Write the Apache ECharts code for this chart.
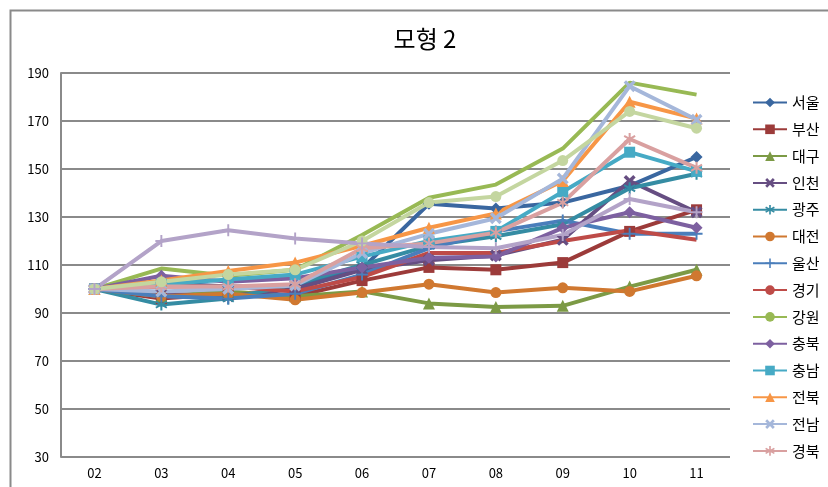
<!DOCTYPE html>
<html>
<head>
<meta charset="utf-8">
<script src="https://cdn.jsdelivr.net/npm/echarts@6/dist/echarts.min.js"></script>
<style>
  html, body { margin: 0; padding: 0; background: #fff; }
  #main { width: 828px; height: 487px; }
</style>
</head>
<body>
<div id="main"></div>
<script>
const categories = ['02', '03', '04', '05', '06', '07', '08', '09', '10', '11'];
const regions = ['서울', '부산', '대구', '인천', '광주', '대전', '울산', '경기', '강원', '충북', '충남', '전북', '전남', '경북', '경남', '제주'];

const seoul    = [100, 102.5, 101, 101, 108.5, 135.5, 133.5, 136, 143, 155];
const busan    = [100, 96, 98, 97, 103.5, 109, 108, 111, 124, 133];
const daegu    = [100, 97, 99, 97, 99, 94, 92.5, 93, 101, 108];
const incheon  = [100, 98, 97, 100, 108, 112, 114, 120.5, 145, 132];
const gwangju  = [100, 93.5, 96, 102, 110, 118, 122, 127, 142, 148];
const daejeon  = [100, 97, 98, 95.5, 98.5, 102, 98.5, 100.5, 99, 105.5];
const ulsan    = [100, 97, 96, 98, 106, 117, 124, 128.5, 123, 123];
const gyeonggi = [100, 101, 101, 99, 105, 115, 115, 120, 124.5, 120.5];
const gangwon  = [100, 108.5, 105.5, 108, 122.5, 138, 143.5, 158.5, 186, 181];
const chungbuk = [100, 105.5, 103, 104.5, 109, 113, 113.5, 125.5, 132, 125.5];
const chungnam = [100, 102, 104, 106, 113.5, 120, 124, 140.5, 157, 149];
const jeonbuk  = [100, 103.5, 107.5, 111, 118, 125.5, 131.5, 145, 178, 171];
const jeonnam  = [100, 99, 100, 101.5, 115, 123, 129.5, 146, 184.5, 170.5];
const gyeongbuk = [100, 101, 101, 102, 117, 119, 123.5, 136, 162.5, 150.5];
const gyeongnam = [100, 103, 106, 108, 120, 136, 138.5, 153.5, 174, 167];
const jeju     = [100, 120, 124.5, 121, 119, 117.5, 117, 122.5, 137.5, 132];

const values = [seoul, busan, daegu, incheon, gwangju, daejeon, ulsan, gyeonggi,
  gangwon, chungbuk, chungnam, jeonbuk, jeonnam, gyeongbuk, gyeongnam, jeju];

const xMark = 'path://M2,0 L5,3 L8,0 L10,2 L7,5 L10,8 L8,10 L5,7 L2,10 L0,8 L3,5 L0,2 Z';
const starMark = 'path://M4.2,0 H5.8 V3.6 L8.9,1.7 L9.7,3.1 L6.6,5 L9.7,6.9 L8.9,8.3 L5.8,6.4 V10 H4.2 V6.4 L1.1,8.3 L0.3,6.9 L3.4,5 L0.3,3.1 L1.1,1.7 L4.2,3.6 Z';
const plusMark = 'path://M4.2,0 H5.8 V4.2 H10 V5.8 H5.8 V10 H4.2 V5.8 H0 V4.2 H4.2 Z';

const colors = ['#3A67A0', '#9C3B3A', '#7C9A45', '#664E82', '#358CA3', '#D07830', '#4A7EBB', '#BE4B48',
  '#98B954', '#7D60A0', '#46AAC5', '#F79646', '#A5B7DA', '#D9A0A0', '#C4D6A0', '#B3A3C8'];
const symbols = ['diamond', 'rect', 'triangle', xMark, starMark, 'circle', plusMark, 'none',
  'none', 'diamond', 'rect', 'triangle', xMark, starMark, 'circle', plusMark];

let chart = echarts.init(document.getElementById('main'));

let series = regions.map(function (name, i) {
    return {
        name: name,
        type: 'line',
        data: values[i],
        symbol: symbols[i],
        symbolSize: symbols[i] === 'rect' || symbols[i] === 'circle' ? 11 : 12,
        showSymbol: true,
        lineStyle: { width: 4, color: colors[i] },
        itemStyle: { color: colors[i] },
        emphasis: { disabled: true },
        animation: false
    };
});

let option = {
    textStyle: { fontFamily: 'Noto Sans CJK KR' },
    title: {
        text: '모형 2',
        left: 420,
        top: 22,
        textAlign: 'center',
        textStyle: { color: '#000', fontSize: 24, fontWeight: 'normal', fontFamily: 'Noto Sans CJK KR' }
    },
    graphic: [{
        type: 'rect',
        left: 8,
        top: 8,
        shape: { width: 900, height: 600 },
        style: { fill: 'none', stroke: '#8a8a8a', lineWidth: 2 },
        z: -1
    }],
    legend: {
        data: regions.slice(0, 14),
        orient: 'vertical',
        left: 747,
        top: 90,
        itemWidth: 34,
        itemHeight: 12,
        itemGap: 11.8,
        textStyle: { color: '#000', fontSize: 15, fontFamily: 'Noto Sans CJK KR' }
    },
    grid: { left: 61, right: 98, top: 73, bottom: 30, containLabel: false },
    xAxis: {
        type: 'category',
        data: categories,
        boundaryGap: true,
        axisLine: { show: false },
        axisTick: { show: false },
        axisLabel: { color: '#000', fontSize: 13, margin: 10 }
    },
    yAxis: {
        type: 'value',
        min: 30,
        max: 190,
        interval: 20,
        axisLine: { show: true, lineStyle: { color: '#8a8a8a', width: 2 } },
        axisTick: { show: false },
        axisLabel: { color: '#000', fontSize: 13, margin: 12 },
        splitLine: { lineStyle: { color: '#8a8a8a', width: 2 } }
    },
    series: series
};

option && chart.setOption(option);
</script>
</body>
</html>
